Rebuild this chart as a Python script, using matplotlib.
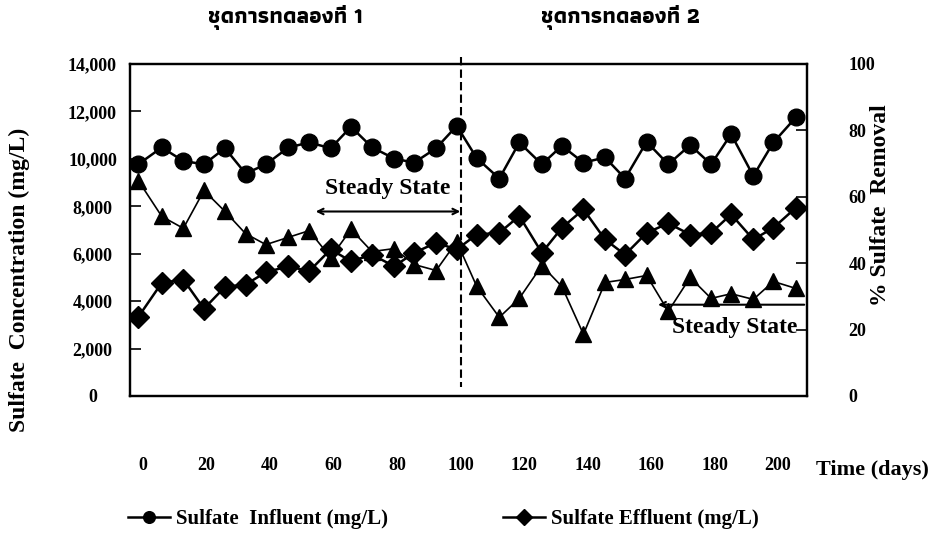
import matplotlib
matplotlib.use("Agg")
import matplotlib.pyplot as plt
from matplotlib.ticker import FuncFormatter

plt.rcParams['font.family'] = ['Liberation Serif', 'DejaVu Sans']
plt.rcParams['font.weight'] = 'bold'

# sampling days
days = [-1.5, 5.9, 12.7, 19.2, 25.8, 32.3, 38.7, 45.8, 52.3, 59.1, 65.5, 72.1,
        79.1, 85.4, 92.3, 98.8, 105.1, 112.2, 118.5, 125.6, 131.9, 138.7, 145.5,
        151.8, 158.6, 165.4, 172.3, 178.9, 185.2, 192.2, 198.5, 205.6]

# sulfate influent / effluent, mg/L
influent = [9770, 10480, 9910, 9770, 10450, 9380, 9770, 10480, 10690, 10450, 11350,
            10490, 10010, 9840, 10450, 11390, 10030, 9170, 10690, 9770, 10550, 9840,
            10060, 9170, 10720, 9770, 10580, 9770, 11040, 9280, 10690, 11750]
effluent = [3330, 4770, 4910, 3680, 4600, 4700, 5220, 5470, 5260, 6180, 5680, 5960,
            5470, 6040, 6460, 6180, 6810, 6880, 7590, 6040, 7090, 7870, 6600, 5960,
            6880, 7280, 6810, 6880, 7660, 6600, 7090, 7940]

# % sulfate removal (right axis)
removal = [64.9, 54.1, 50.5, 61.9, 55.6, 48.9, 45.6, 47.8, 49.8, 41.7, 50.2, 43.5,
           44.4, 39.6, 37.8, 46.5, 33.0, 23.7, 29.4, 39.3, 33.0, 18.6, 34.2, 35.1,
           36.3, 25.5, 35.7, 29.4, 30.8, 29.1, 34.5, 32.4]

xticks = [0, 20, 40, 60, 80, 100, 120, 140, 160, 180, 200]
thai_font = ['Athiti', 'DejaVu Sans']

fig = plt.figure(figsize=(9.4, 5.43), dpi=100)
ax = fig.add_axes([130 / 940, 1 - 396 / 543, 677 / 940, 332 / 543])
ax2 = ax.twinx()

l1, = ax.plot(days, influent, color='black', lw=1.8, marker='o', ms=12,
              label='Sulfate  Influent (mg/L)', zorder=3)
l2, = ax.plot(days, effluent, color='black', lw=1.8, marker='D', ms=11,
              label='Sulfate Effluent (mg/L)', zorder=3)
ax2.plot(days, removal, color='black', lw=1.2, marker='^', ms=12, zorder=3)

ax.set_xlim(-4.1, 209.1)
ax.set_ylim(0, 14000)
ax2.set_ylim(0, 100)
ax.set_xticks(xticks)
ax.set_yticks(range(0, 14001, 2000))
ax2.set_yticks(range(0, 101, 20))
ax.yaxis.set_major_formatter(FuncFormatter(lambda v, p: f"{int(v):,}"))

ax.tick_params(axis='x', length=0, pad=44, labelsize=13)
ax.tick_params(axis='y', direction='in', length=8, width=1.2, pad=27, labelsize=13)
for t in ax.get_yticklabels():
    t.set_horizontalalignment('center')
ax2.tick_params(axis='y', direction='in', length=8, width=1.2, pad=30, labelsize=13)

for a in (ax, ax2):
    for s in a.spines.values():
        s.set_linewidth(1.6)

# separation between the two experiment sets
ax.plot([100, 100], [1.02, 0.027], transform=ax.get_xaxis_transform(),
        color='black', lw=1.5, ls=(0, (4, 2)), clip_on=False, zorder=4)

# steady state markers
ax.annotate('', xy=(53.5, 7780), xytext=(100.8, 7780),
            arrowprops=dict(arrowstyle='<->', color='black', lw=1.5))
ax.text(76.9, 8750, 'Steady State', ha='center', va='center', fontsize=17)
ax.annotate('', xy=(161.3, 3850), xytext=(209.1, 3850),
            arrowprops=dict(arrowstyle='->', color='black', lw=1.5))
ax.text(186.3, 2880, 'Steady State', ha='center', va='center', fontsize=17)

fig.text(285 / 940, 1 - 17 / 543, 'ชุดการทดลองที่ 1', ha='center', va='center',
         fontsize=16, family=thai_font, weight='bold')
fig.text(621 / 940, 1 - 17 / 543, 'ชุดการทดลองที่ 2', ha='center', va='center',
         fontsize=16, family=thai_font, weight='bold')

fig.text(19 / 940, 1 - 280 / 543, 'Sulfate  Concentration (mg/L)', rotation=90,
         ha='center', va='center', fontsize=17)
fig.text(880 / 940, 1 - 205 / 543, '% Sulfate  Removal', rotation=90,
         ha='center', va='center', fontsize=17)
fig.text(872 / 940, 1 - 470 / 543, 'Time (days)', ha='center', va='center', fontsize=16)

fig.legend(handles=[l1, l2], loc='center left', bbox_to_anchor=(118 / 940, 1 - 519 / 543),
           ncol=2, frameon=False, fontsize=15, handlelength=2.0, handletextpad=0.3,
           columnspacing=5.5, markerscale=0.7, borderpad=0)

fig.savefig('out.png', dpi=100)
